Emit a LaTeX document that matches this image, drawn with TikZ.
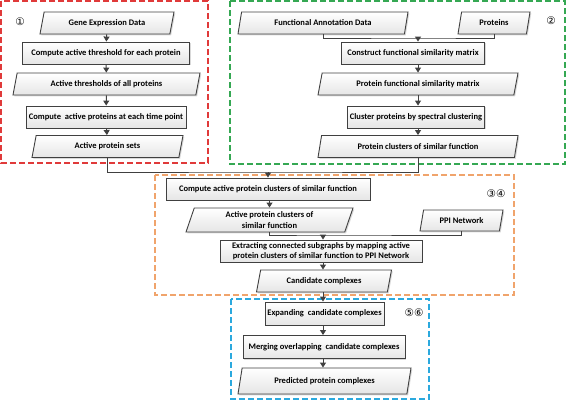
\documentclass[tikz,border=0pt]{standalone}
\usepackage{fontspec}
\setmainfont{Carlito}
\newfontfamily\circfont{DejaVu Sans}
\usetikzlibrary{shapes.geometric,shadows,arrows.meta}
\definecolor{lg}{HTML}{404040}
\definecolor{cred}{HTML}{E03A3A}
\definecolor{cgreen}{HTML}{35A853}
\definecolor{corange}{HTML}{F0A46C}
\definecolor{cblue}{HTML}{2BA9DE}
\tikzset{
  lbl/.style={font=\fontsize{8.5}{10.5}\selectfont\bfseries},
  common/.style={lbl, draw=lg, line width=0.9pt, top color=white, bottom color=gray!20,
    drop shadow={shadow xshift=1.3pt, shadow yshift=-1.3pt, opacity=0.3},
    align=center, inner sep=1pt},
  proc/.style={common, rectangle, minimum height=22pt},
  data/.style={common, trapezium, trapezium left angle=66, trapezium right angle=114,
    trapezium stretches body, minimum height=22pt},
  dbox/.style={line width=1.3pt, dash pattern=on 6pt off 3pt},
  conn/.style={draw=lg, line width=1pt},
  arr/.style={conn, -{Triangle[width=6pt,length=5pt]}},
  circ/.style={font=\circfont\fontsize{10.5}{10.5}\selectfont, inner sep=0pt}
}
\begin{document}
\begin{tikzpicture}[x=1pt,y=-1pt]
\useasboundingbox (0,0) rectangle (567,402);
% group boxes
\draw[dbox, cred] (1,1) rectangle (208,163);
\draw[dbox, cgreen] (230,1) rectangle (565,164);
\draw[dbox, corange] (155,175) rectangle (514,295);
\draw[dbox, cblue] (231,299) rectangle (429,399);
% labels
\node[circ] (n1) at (20,22) {①};
\node[circ] (n2) at (551,21) {②};
\node[circ] (n34) at (496,194) {③④};
\node[circ] (n56) at (414,313) {⑤⑥};
% group 1
\node[data, minimum width=134pt] (gene) at (107,23) {Gene Expression Data};
\node[proc, minimum width=167pt] (thr) at (106,53) {Compute active threshold for each protein};
\node[data, minimum width=187pt] (athr) at (106.5,84) {Active thresholds of all proteins};
\node[proc, minimum width=160pt] (cap) at (106,117) {Compute\ \ active proteins at each time point};
\node[data, minimum width=151pt] (aps) at (107.5,146.5) {Active protein sets};
% group 2
\node[data, minimum width=170pt] (fad) at (323,23) {Functional Annotation Data};
\node[data, minimum width=72pt] (prot) at (494,23) {Proteins};
\node[proc, minimum width=143pt] (cfsm) at (413,53) {Construct functional similarity matrix};
\node[data, minimum width=200pt] (pfsm) at (418,84) {Protein functional similarity matrix};
\node[proc, minimum width=137pt] (clus) at (416,117) {Cluster proteins by spectral clustering};
\node[data, minimum width=200pt] (pcsf) at (418,146.5) {Protein clusters of similar function};
% group 3/4
\node[proc, minimum width=204pt] (capc) at (268,189) {Compute active protein clusters of similar function};
\node[data, minimum width=167pt, minimum height=24pt] (apc) at (269.5,220) {Active protein clusters of\\similar function};
\node[data, minimum width=83pt, minimum height=21pt] (ppi) at (461.5,220.5) {PPI Network};
\node[proc, minimum width=202pt] (ext) at (321,251) {Extracting connected subgraphs by mapping active\\protein clusters of similar function to PPI Network};
\node[data, minimum width=135pt] (cand) at (324,281) {Candidate complexes};
% group 5/6
\node[proc, minimum width=119pt, minimum height=23pt] (expd) at (324.5,313.5) {Expanding\ \ candidate complexes};
\node[proc, minimum width=162pt, minimum height=23pt] (merg) at (324,347) {Merging overlapping\ \ candidate complexes};
\node[data, minimum width=173pt, minimum height=26pt] (pred) at (324.5,381) {Predicted protein complexes};
% connectors
\coordinate (j1) at (268,172);
\coordinate (j2) at (418,38);
\coordinate (j3) at (323,235);
\draw[arr] (gene) -- (thr);
\draw[arr] (thr) -- (athr);
\draw[arr] (athr) -- (cap);
\draw[arr] (cap) -- (aps);
\draw[conn] (fad.south) |- (j2) -| (prot.south);
\draw[arr] (j2) -- (j2 |- cfsm.north);
\draw[arr] (cfsm.south -| pfsm.north) -- (pfsm.north);
\draw[arr] (pfsm.south) -- (pfsm.south |- clus.north);
\draw[arr] (clus.south -| pcsf.north) -- (pcsf.north);
\draw[conn] (aps.south) |- (j1) -| (pcsf.south);
\draw[arr] (j1) -- (capc.north);
\draw[arr] (capc.south -| apc.north) -- (apc.north);
\draw[conn] (apc.south) |- (j3) -| (ppi.south);
\draw[arr] (j3) -- (j3 |- ext.north);
\draw[arr] (ext.south -| j3) -- (j3 |- cand.north);
\draw[arr] (cand.south -| j3) -- (j3 |- expd.north);
\draw[arr] (expd.south -| j3) -- (j3 |- merg.north);
\draw[arr] (merg.south -| j3) -- (j3 |- pred.north);
\end{tikzpicture}
\end{document}
